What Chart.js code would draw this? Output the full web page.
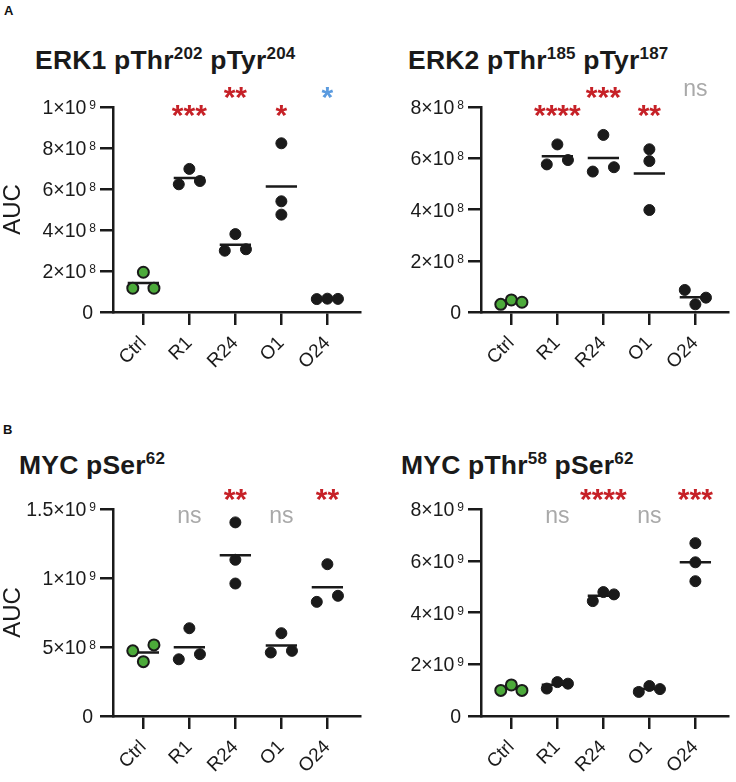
<!DOCTYPE html>
<html>
<head>
<meta charset="utf-8">
<script src="https://cdn.jsdelivr.net/npm/chart.js@4.4.0/dist/chart.umd.min.js"></script>
<style>
  body { margin: 0; background: #fff; font-family: "Liberation Sans", Arial, sans-serif; }
  #page { position: relative; width: 736px; height: 782px; overflow: hidden; background: #fff; }
  .letter { position: absolute; font-weight: bold; font-size: 13px; color: #111; }
  .title { position: absolute; font-weight: bold; font-size: 26.5px; line-height: 30px; color: #1a1a1a; white-space: nowrap; letter-spacing: 0.2px; }
  .title .s { font-size: 17px; position: relative; top: -10px; }
  canvas { position: absolute; }
</style>
</head>
<body>
<div id="page">
  <div class="letter" style="left:4px;top:3px">A</div>
  <div class="letter" style="left:3px;top:422px">B</div>

  <div class="title" style="left:35px;top:45px">ERK1 pThr<span class="s">202</span> pTyr<span class="s">204</span></div>
  <div class="title" style="left:408px;top:45px">ERK2 pThr<span class="s">185</span> pTyr<span class="s">187</span></div>
  <div class="title" style="left:19px;top:450px">MYC pSer<span class="s">62</span></div>
  <div class="title" style="left:401px;top:450px">MYC pThr<span class="s">58</span> pSer<span class="s">62</span></div>

  <canvas id="erk1" width="368" height="300" style="left:0px;top:77px;width:368px;height:300px"></canvas>
  <canvas id="erk2" width="368" height="300" style="left:368px;top:77px;width:368px;height:300px"></canvas>
  <canvas id="mycS62" width="368" height="302" style="left:0px;top:479px;width:368px;height:302px"></canvas>
  <canvas id="mycT58" width="368" height="302" style="left:368px;top:479px;width:368px;height:302px"></canvas>
</div>

<script>
const groups = ["Ctrl", "R1", "R24", "O1", "O24"];

// ERK1 pThr202 pTyr204
const erk1Values = [
  [1.16e8, 1.94e8, 1.16e8],
  [6.23e8, 6.98e8, 6.39e8],
  [2.99e8, 3.80e8, 3.06e8],
  [8.23e8, 5.40e8, 4.75e8],
  [0.63e8, 0.65e8, 0.64e8],
];
const erk1Sig = ["", "***", "**", "*", "*"];
const erk1Ticks = [0, 2e8, 4e8, 6e8, 8e8, 1e9];

// ERK2 pThr185 pTyr187
const erk2Values = [
  [0.30e8, 0.47e8, 0.38e8],
  [5.76e8, 6.54e8, 5.93e8],
  [5.48e8, 6.91e8, 5.65e8],
  [6.35e8, 5.89e8, 3.98e8],
  [0.86e8, 0.30e8, 0.56e8],
];
const erk2Sig = ["", "****", "***", "**", "ns"];
const erk2Ticks = [0, 2e8, 4e8, 6e8, 8e8];

// MYC pSer62
const mycS62Values = [
  [4.72e8, 3.94e8, 5.15e8],
  [4.11e8, 6.36e8, 4.48e8],
  [14.03e8, 11.32e8, 9.60e8],
  [4.60e8, 6.00e8, 4.72e8],
  [8.27e8, 11.0e8, 8.71e8],
];
const mycS62Sig = ["", "ns", "**", "ns", "**"];
const mycS62Ticks = [0, 5e8, 1e9, 1.5e9];

// MYC pThr58 pSer62
const mycT58Values = [
  [0.99e9, 1.20e9, 0.99e9],
  [1.06e9, 1.31e9, 1.25e9],
  [4.44e9, 4.79e9, 4.70e9],
  [0.93e9, 1.16e9, 1.04e9],
  [6.68e9, 5.94e9, 5.21e9],
];
const mycT58Sig = ["", "ns", "****", "ns", "***"];
const mycT58Ticks = [0, 2e9, 4e9, 6e9, 8e9];

const INK = "#1a1a1a";
const RED = "#c62127";
const BLUE = "#5b9bdf";
const GREY = "#a9a9a9";
const GREEN = "#4caa3a";
const FONT = '"Liberation Sans", Arial, sans-serif';

const mean = (a) => a.reduce((s, v) => s + v, 0) / a.length;

// spread crowded groups sideways like a dot plot
function offsets(vals, range) {
  const thr = range * 0.055;
  let crowded = false;
  for (let i = 0; i < vals.length; i++)
    for (let j = i + 1; j < vals.length; j++)
      if (Math.abs(vals[i] - vals[j]) < thr) crowded = true;
  return vals.map((v, i) => (crowded ? (i - 1) * 0.23 : 0));
}

const decor = {
  id: "decor",
  afterDraw(chart) {
    const ctx = chart.ctx;
    const ys = chart.scales.y, xs = chart.scales.x;
    const area = chart.chartArea;
    const opts = chart.options.plugins.decor;
    ctx.save();
    // y tick labels with superscript exponents
    opts.ticks.forEach((v) => {
      const y = ys.getPixelForValue(v);
      const xr = area.left - 17;
      ctx.fillStyle = INK;
      ctx.textAlign = "right";
      ctx.textBaseline = "alphabetic";
      if (v === 0) {
        ctx.font = "19.5px " + FONT;
        ctx.fillText("0", xr - 3, y + 7);
        return;
      }
      const exp = Math.floor(Math.log10(v) + 1e-9);
      const mant = +(v / Math.pow(10, exp)).toFixed(2);
      ctx.font = "12px " + FONT;
      const supW = ctx.measureText(String(exp)).width;
      ctx.fillText(String(exp), xr, y + 2);
      ctx.font = "19.5px " + FONT;
      ctx.fillText(mant + "\u00d710", xr - supW - 3, y + 7);
    });
    // significance labels
    const ctrlMean = mean(opts.values[0]);
    opts.sig.forEach((s, i) => {
      if (!s) return;
      const x = xs.getPixelForValue(i);
      const high = i % 2 === 0;
      ctx.textAlign = "center";
      ctx.textBaseline = "alphabetic";
      if (s === "ns") {
        const cy = high ? area.top - 17 : area.top + 8;
        ctx.fillStyle = GREY;
        ctx.font = "23px " + FONT;
        ctx.fillText(s, x, cy + 6);
      } else {
        const cy = high ? area.top - 13 : area.top + 5;
        ctx.fillStyle = mean(opts.values[i]) < ctrlMean ? BLUE : RED;
        ctx.font = "bold 30px " + FONT;
        ctx.fillText(s, x, cy + 13);
      }
    });
    ctx.restore();
  },
};

function makeChart(id, values, ticks, sig, showAuc) {
  const max = ticks[ticks.length - 1];
  const ctrlPts = [], dots = [], means = [];
  values.forEach((vals, i) => {
    const off = offsets(vals, max);
    vals.forEach((v, k) => (i === 0 ? ctrlPts : dots).push({ x: i + off[k], y: v }));
    const m = mean(vals);
    means.push({ x: i - 0.34, y: m }, { x: i + 0.34, y: m }, { x: i, y: null });
  });

  return new Chart(document.getElementById(id), {
    type: "scatter",
    data: {
      datasets: [
        { data: means, showLine: true, borderColor: INK, borderWidth: 2.5, pointRadius: 0, spanGaps: false, order: 3 },
        { data: dots, backgroundColor: INK, borderColor: INK, borderWidth: 1, pointRadius: 5.5, order: 1 },
        { data: ctrlPts, backgroundColor: GREEN, borderColor: INK, borderWidth: 2, pointRadius: 5.5, order: 1 },
      ],
    },
    options: {
      responsive: false,
      animation: false,
      clip: false,
      layout: { padding: { top: 30, right: 1, left: 0, bottom: 0 } },
      plugins: {
        legend: { display: false },
        tooltip: { enabled: false },
        decor: { ticks: ticks, sig: sig, values: values },
      },
      scales: {
        x: {
          type: "linear",
          min: -0.66,
          max: 4.72,
          afterBuildTicks: (s) => { s.ticks = groups.map((g, i) => ({ value: i })); },
          afterFit: (s) => { s.height = 65; },
          ticks: {
            autoSkip: false,
            minRotation: 45,
            maxRotation: 45,
            padding: 7,
            color: INK,
            font: { family: FONT, size: 19 },
            callback: (v) => groups[v],
          },
          grid: { drawOnChartArea: false, tickLength: 13, lineWidth: 2.5, color: INK },
          border: { display: true, width: 2.5, color: INK },
        },
        y: {
          min: 0,
          max: max,
          afterBuildTicks: (s) => { s.ticks = ticks.map((v) => ({ value: v })); },
          afterFit: (s) => { s.width = 113; },
          ticks: { display: false },
          title: {
            display: showAuc,
            text: "AUC",
            color: INK,
            padding: { top: 1, bottom: 0 },
            font: { family: FONT, size: 24, lineHeight: 1 },
          },
          grid: { drawOnChartArea: false, tickLength: 13, lineWidth: 2.5, color: INK },
          border: { display: true, width: 2.5, color: INK },
        },
      },
    },
    plugins: [decor],
  });
}

makeChart("erk1", erk1Values, erk1Ticks, erk1Sig, true);
makeChart("erk2", erk2Values, erk2Ticks, erk2Sig, false);
makeChart("mycS62", mycS62Values, mycS62Ticks, mycS62Sig, true);
makeChart("mycT58", mycT58Values, mycT58Ticks, mycT58Sig, false);
</script>
</body>
</html>
